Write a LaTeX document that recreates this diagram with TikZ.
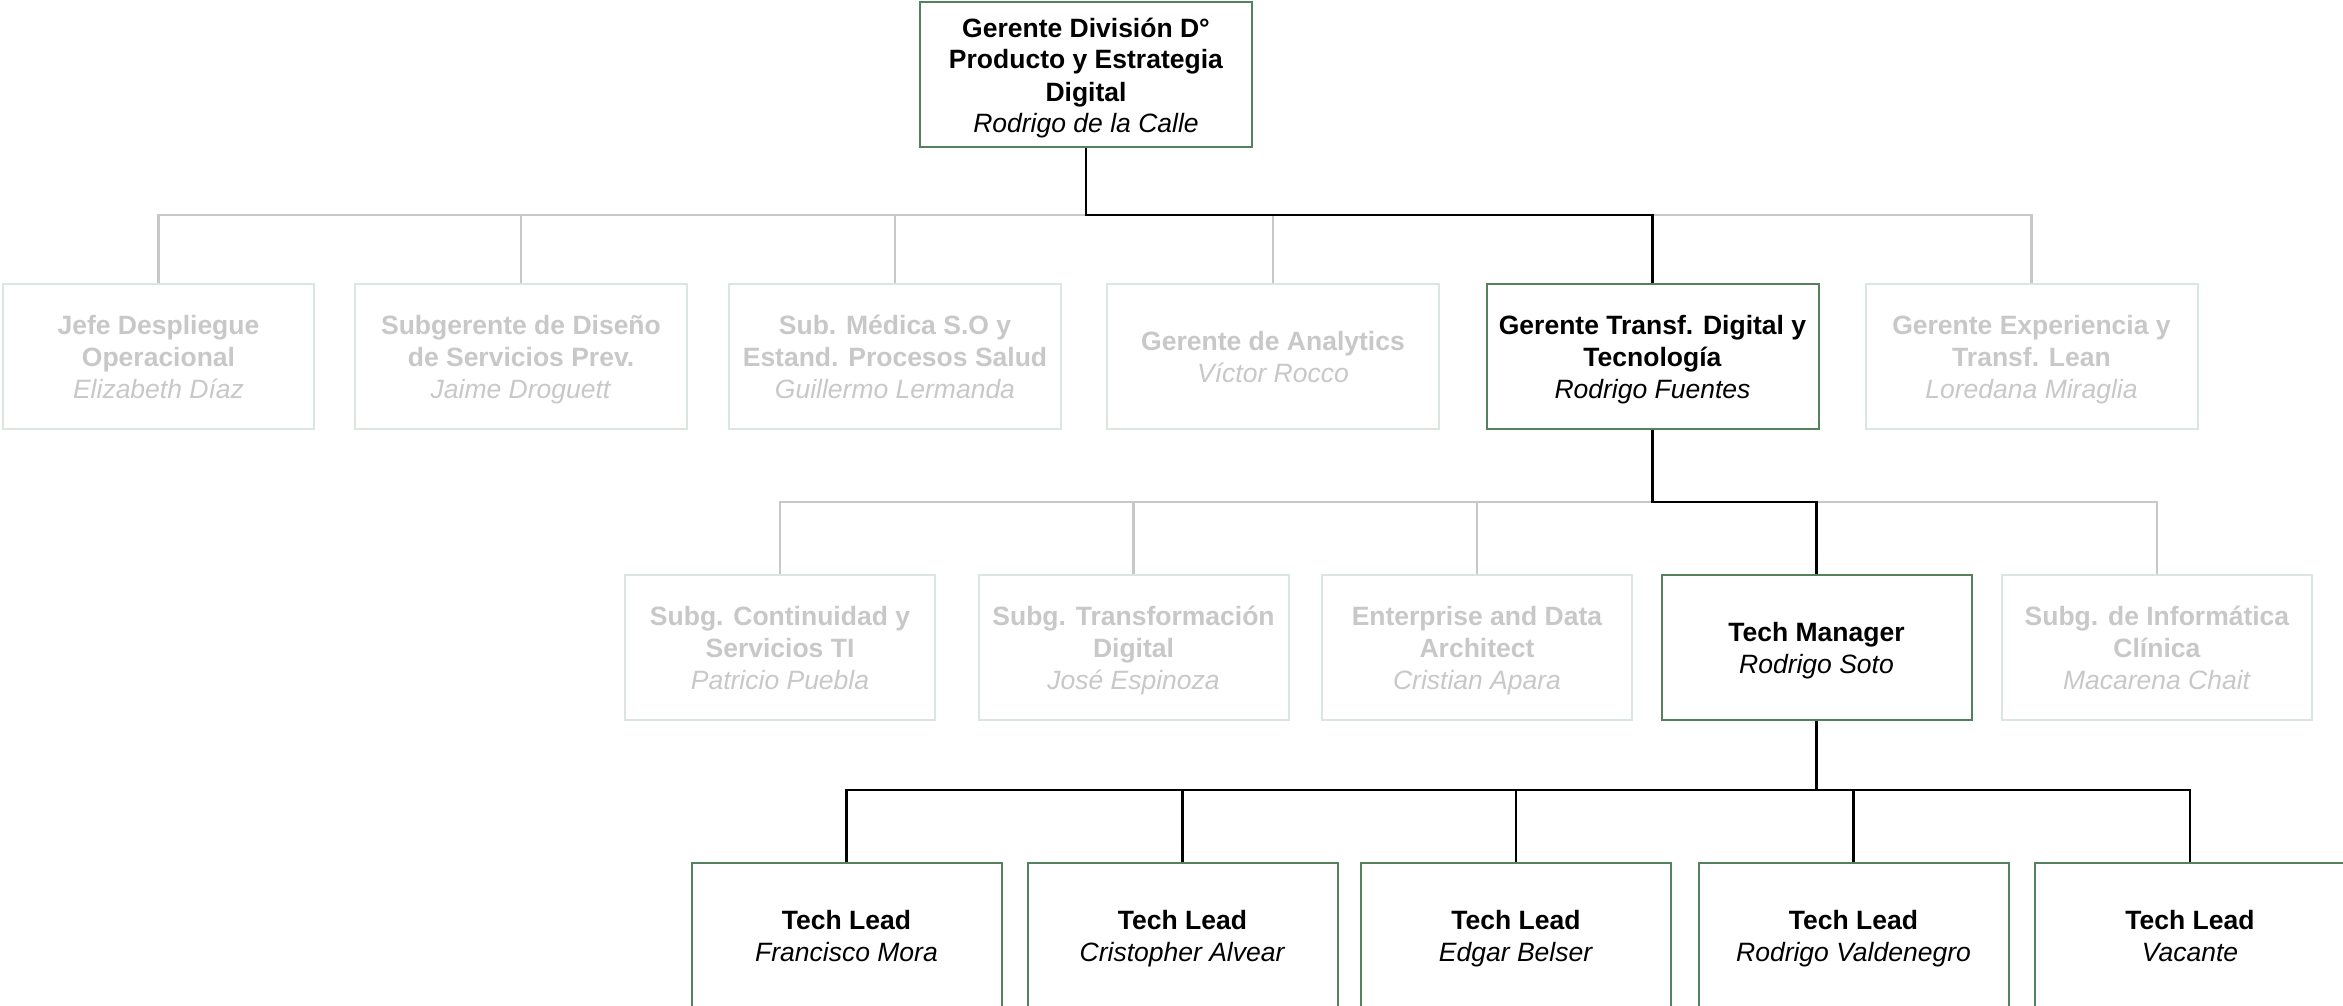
\documentclass[tikz,border=0pt]{standalone}
\usepackage{fontspec}
\setmainfont{Liberation Sans}
\definecolor{actborder}{RGB}{84,130,94}
\definecolor{offborder}{RGB}{218,230,222}
\definecolor{offtext}{RGB}{200,200,200}
\definecolor{offline}{RGB}{200,200,200}
\newcommand\lstrut{\rule[-6pt]{0pt}{32pt}}
\newcommand\ttl[1]{\textbf{#1}\lstrut}
\newcommand\nam[1]{\textit{#1}\lstrut}
\begin{document}
\begin{tikzpicture}[x=1pt,y=-1pt,
  every node/.style={font=\fontsize{26.5}{32}\selectfont},
  box/.style={draw, line width=2pt, inner sep=0pt, align=center, minimum height=145pt, fill=white},
  act/.style={box, draw=actborder, text=black},
  off/.style={box, draw=offborder, text=offtext},
  wA/.style={minimum width=332pt},
  wB/.style={minimum width=310pt},
  blk/.style={draw=black, line width=2.6pt},
  gry/.style={draw=offline, line width=2.6pt},
  ]
\useasboundingbox (0,0) rectangle (2343,1006);
% coordinates for the buses
\coordinate (bus1) at (0,215);
\coordinate (bus2) at (0,502);
\coordinate (bus3) at (0,790);

% top
\node[act, wA] (top) at (1086,75) {\ttl{Gerente División D°}\\\ttl{Producto y Estrategia}\\\ttl{Digital}\\\nam{Rodrigo de la Calle}};

% level 2
\node[off, minimum width=311pt] (b1) at (158.5,356.5) {\ttl{Jefe Despliegue}\\\ttl{Operacional}\\\nam{Elizabeth Díaz}};
\node[off, wA] (b2) at (521,356.5) {\ttl{Subgerente de Diseño}\\\ttl{de Servicios Prev.}\\\nam{Jaime Droguett}};
\node[off, wA] (b3) at (895,356.5) {\ttl{Sub. Médica S.O y}\\\ttl{Estand. Procesos Salud}\\\nam{Guillermo Lermanda}};
\node[off, wA] (b4) at (1273,356.5) {\ttl{Gerente de Analytics}\\\nam{Víctor Rocco}};
\node[act, wA] (b5) at (1652.5,356.5) {\ttl{Gerente Transf. Digital y}\\\ttl{Tecnología}\\\nam{Rodrigo Fuentes}};
\node[off, wA] (b6) at (2031.5,356.5) {\ttl{Gerente Experiencia y}\\\ttl{Transf. Lean}\\\nam{Loredana Miraglia}};

% level 3
\node[off, wB] (c1) at (780,647) {\ttl{Subg. Continuidad y}\\\ttl{Servicios TI}\\\nam{Patricio Puebla}};
\node[off, wB] (c2) at (1133.5,647) {\ttl{Subg. Transformación}\\\ttl{Digital}\\\nam{José Espinoza}};
\node[off, wB] (c3) at (1477,647) {\ttl{Enterprise and Data}\\\ttl{Architect}\\\nam{Cristian Apara}};
\node[act, wB] (c4) at (1816.5,647) {\ttl{Tech Manager}\\\nam{Rodrigo Soto}};
\node[off, wB] (c5) at (2157,647) {\ttl{Subg. de Informática}\\\ttl{Clínica}\\\nam{Macarena Chait}};

% level 4
\node[act, wB] (d1) at (846.5,935) {\ttl{Tech Lead}\\\nam{Francisco Mora}};
\node[act, wB] (d2) at (1182.5,935) {\ttl{Tech Lead}\\\nam{Cristopher Alvear}};
\node[act, wB] (d3) at (1516,935) {\ttl{Tech Lead}\\\nam{Edgar Belser}};
\node[act, wB] (d4) at (1853.5,935) {\ttl{Tech Lead}\\\nam{Rodrigo Valdenegro}};
\node[act, wB] (d5) at (2190,935) {\ttl{Tech Lead}\\\nam{Vacante}};

% gray connectors level 1->2
\draw[gry] (b1.north) -- (b1.north |- bus1) -- (b6.north |- bus1) -- (b6.north);
\draw[gry] (b2.north |- bus1) -- (b2.north);
\draw[gry] (b3.north |- bus1) -- (b3.north);
\draw[gry] (b4.north |- bus1) -- (b4.north);
% black path level 1->2
\draw[blk] (top.south) |- (b5.north |- bus1) -- (b5.north);

% gray connectors level 2->3
\draw[gry] (c1.north) -- (c1.north |- bus2) -- (c5.north |- bus2) -- (c5.north);
\draw[gry] (c2.north |- bus2) -- (c2.north);
\draw[gry] (c3.north |- bus2) -- (c3.north);
% black path level 2->3
\draw[blk] (b5.south) |- (c4.north |- bus2) -- (c4.north);

% black connectors level 3->4
\draw[blk] (d1.north) -- (d1.north |- bus3) -- (d5.north |- bus3) -- (d5.north);
\draw[blk] (c4.south) -- (c4.south |- bus3);
\draw[blk] (d2.north |- bus3) -- (d2.north);
\draw[blk] (d3.north |- bus3) -- (d3.north);
\draw[blk] (d4.north |- bus3) -- (d4.north);
\end{tikzpicture}
\end{document}
